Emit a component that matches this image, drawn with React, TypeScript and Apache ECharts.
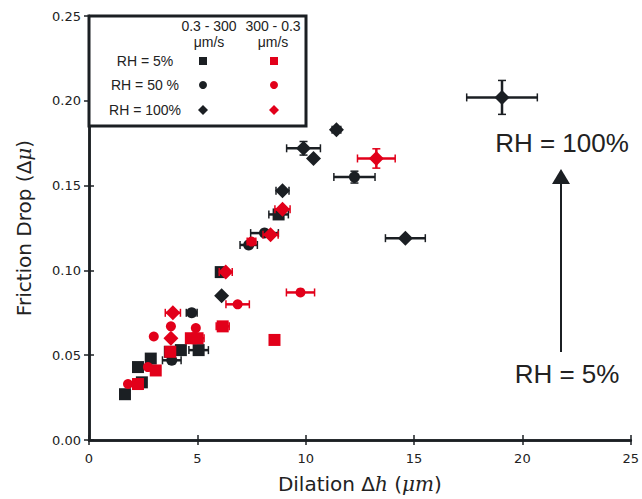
import React, { useEffect, useRef } from "react";
import * as echarts from "echarts";

// [dilation (µm), friction drop, x error, y error]
const blackSquares = [
  [1.66, 0.027, 0, 0],
  [2.26, 0.043, 0, 0],
  [2.44, 0.034, 0, 0],
  [2.85, 0.048, 0, 0],
  [3.73, 0.052, 0, 0],
  [4.24, 0.053, 0, 0],
  [5.06, 0.053, 0.45, 0],
  [6.08, 0.099, 0.2, 0],
  [8.75, 0.133, 0.45, 0],
];
const blackCircles = [
  [3.82, 0.047, 0.43, 0],
  [4.74, 0.075, 0.25, 0],
  [7.37, 0.115, 0.4, 0],
  [8.1, 0.122, 0.64, 0],
  [12.25, 0.155, 0.95, 0.0035],
];
const blackDiamonds = [
  [6.12, 0.085, 0, 0],
  [8.93, 0.147, 0.3, 0],
  [11.42, 0.183, 0.2, 0],
  [10.36, 0.166, 0, 0],
  [9.9, 0.172, 0.78, 0.004],
  [14.6, 0.119, 0.92, 0],
  [19.06, 0.202, 1.63, 0.01],
];
const redSquares = [
  [2.26, 0.033, 0, 0],
  [3.08, 0.041, 0, 0],
  [3.75, 0.052, 0, 0],
  [4.7, 0.06, 0, 0],
  [5.01, 0.06, 0.3, 0],
  [6.17, 0.067, 0.3, 0],
  [8.56, 0.059, 0, 0],
];
const redCircles = [
  [1.8, 0.033, 0, 0],
  [2.72, 0.043, 0, 0],
  [2.99, 0.061, 0, 0],
  [3.78, 0.067, 0, 0],
  [4.93, 0.066, 0, 0],
  [6.86, 0.08, 0.54, 0],
  [7.5, 0.117, 0.2, 0],
  [9.76, 0.087, 0.65, 0],
];
const redDiamonds = [
  [3.78, 0.06, 0, 0],
  [3.87, 0.075, 0.35, 0],
  [6.31, 0.099, 0.3, 0],
  [8.38, 0.121, 0.35, 0],
  [8.93, 0.136, 0.35, 0],
  [13.26, 0.166, 0.87, 0.0057],
];

const xTicks = [0, 5, 10, 15, 20, 25];
const yTicks = [0, 0.05, 0.1, 0.15, 0.2, 0.25];

const BLACK = "#1b1f23";
const RED = "#e2001a";
const SANS = "'Liberation Sans', Arial, sans-serif";
const DEJAVU = "'DejaVu Sans', sans-serif";

function errSeries(data: number[][], color: string, z: number) {
  return {
    type: "custom",
    z,
    xAxisIndex: 0,
    yAxisIndex: 0,
    data: data.filter((d) => d[2] > 0 || d[3] > 0),
    renderItem: (params: any, api: any) => {
      const x = api.value(0);
      const y = api.value(1);
      const xe = api.value(2);
      const ye = api.value(3);
      const children: any[] = [];
      const cap = 4;
      const st = { stroke: color, lineWidth: 2.5 };
      const cs = { stroke: color, lineWidth: 1.5 };
      if (xe > 0) {
        const l = api.coord([x - xe, y]);
        const r = api.coord([x + xe, y]);
        children.push({ type: "line", shape: { x1: l[0], y1: l[1], x2: r[0], y2: r[1] }, style: st });
        children.push({ type: "line", shape: { x1: l[0], y1: l[1] - cap, x2: l[0], y2: l[1] + cap }, style: cs });
        children.push({ type: "line", shape: { x1: r[0], y1: r[1] - cap, x2: r[0], y2: r[1] + cap }, style: cs });
      }
      if (ye > 0) {
        const b = api.coord([x, y - ye]);
        const t = api.coord([x, y + ye]);
        children.push({ type: "line", shape: { x1: b[0], y1: b[1], x2: t[0], y2: t[1] }, style: st });
        children.push({ type: "line", shape: { x1: b[0] - cap, y1: b[1], x2: b[0] + cap, y2: b[1] }, style: cs });
        children.push({ type: "line", shape: { x1: t[0] - cap, y1: t[1], x2: t[0] + cap, y2: t[1] }, style: cs });
      }
      return { type: "group", children };
    },
  };
}

function scatter(name: string, data: number[][], color: string, symbol: string, size: number, z: number) {
  return {
    name,
    type: "scatter",
    z,
    xAxisIndex: 0,
    yAxisIndex: 0,
    symbol,
    symbolSize: size,
    itemStyle: { color, opacity: 1 },
    data: data.map((d) => [d[0], d[1]]),
  };
}

export default function App() {
  const ref = useRef<HTMLDivElement>(null);
  useEffect(() => {
    if (!ref.current) return;
    const chart = echarts.init(ref.current, null, { renderer: "svg" });
    const axisLine = { show: true, lineStyle: { color: BLACK, width: 2.5 } };
    const axisTick = { show: true, inside: true, length: 5, lineStyle: { color: BLACK, width: 1.5 } };
    const xMin = xTicks[0];
    const xMax = xTicks[xTicks.length - 1];
    const yMin = yTicks[0];
    const yMax = yTicks[yTicks.length - 1];
    const legendX0 = 203;
    const legendX1 = 274;
    const rows = [61, 85, 110];
    const t = (x: number, y: number, text: string, size = 14) => ({
      type: "text",
      z: 11,
      x,
      y,
      style: { text, font: `${size}px ${SANS}`, fill: "#222", align: "center", verticalAlign: "middle" },
    });
    const nameStyle = {
      color: "#222",
      fontFamily: DEJAVU,
      fontSize: 20,
      rich: { i: { fontFamily: "'DejaVu Serif', serif", fontStyle: "italic", fontSize: 20, color: "#222" } },
    };
    chart.setOption({
      animation: false,
      backgroundColor: "#ffffff",
      grid: { left: 89, right: 10, top: 16, bottom: 57 },
      xAxis: [
        {
          type: "value",
          min: xMin,
          max: xMax,
          interval: 5,
          position: "bottom",
          axisLine,
          axisTick,
          splitLine: { show: false },
          axisLabel: { color: "#222", fontFamily: DEJAVU, fontSize: 13, margin: 12 },
          name: "Dilation Δ{i|h} ({i|μm})",
          nameLocation: "middle",
          nameGap: 34,
          nameTextStyle: nameStyle,
        },
        {
          type: "value",
          min: xMin,
          max: xMax,
          interval: 5,
          position: "top",
          axisLine,
          axisTick,
          splitLine: { show: false },
          axisLabel: { show: false },
        },
      ],
      yAxis: [
        {
          type: "value",
          min: yMin,
          max: yMax,
          interval: 0.05,
          position: "left",
          axisLine,
          axisTick,
          splitLine: { show: false },
          axisLabel: {
            color: "#222",
            fontFamily: DEJAVU,
            fontSize: 13,
            margin: 8,
            formatter: (v: number) => v.toFixed(2),
          },
          name: "Friction Drop (Δ{i|μ})",
          nameLocation: "middle",
          nameGap: 55,
          nameRotate: 90,
          nameTextStyle: nameStyle,
        },
        {
          type: "value",
          min: yMin,
          max: yMax,
          interval: 0.05,
          position: "right",
          axisLine,
          axisTick,
          splitLine: { show: false },
          axisLabel: { show: false },
        },
      ],
      series: [
        errSeries([...blackSquares, ...blackCircles, ...blackDiamonds], BLACK, 1),
        scatter("bs", blackSquares, BLACK, "rect", 12, 2),
        scatter("bc", blackCircles, BLACK, "circle", 11, 2),
        scatter("bd", blackDiamonds, BLACK, "diamond", 15, 2),
        errSeries([...redSquares, ...redCircles, ...redDiamonds], RED, 3),
        scatter("rs", redSquares, RED, "rect", 12, 4),
        scatter("rc", redCircles, RED, "circle", 10, 4),
        scatter("rd", redDiamonds, RED, "diamond", 15, 4),
      ],
      graphic: [
        {
          type: "rect",
          z: 10,
          shape: { x: 89, y: 16, width: 217, height: 110 },
          style: { fill: "#ffffff", stroke: BLACK, lineWidth: 3 },
        },
        t(209, 26, "0.3 - 300"),
        t(209, 42, "μm/s"),
        t(273, 26, "300 - 0.3"),
        t(273, 42, "μm/s"),
        t(145, rows[0], "RH = 5%"),
        t(145, rows[1], "RH = 50 %"),
        t(145, rows[2], "RH = 100%"),
        { type: "rect", z: 11, shape: { x: legendX0 - 4, y: rows[0] - 4, width: 8, height: 8 }, style: { fill: BLACK } },
        { type: "rect", z: 11, shape: { x: legendX1 - 4, y: rows[0] - 4, width: 8, height: 8 }, style: { fill: RED } },
        { type: "circle", z: 11, shape: { cx: legendX0, cy: rows[1], r: 4 }, style: { fill: BLACK } },
        { type: "circle", z: 11, shape: { cx: legendX1, cy: rows[1], r: 4 }, style: { fill: RED } },
        {
          type: "polygon",
          z: 11,
          shape: { points: [[legendX0, rows[2] - 5], [legendX0 + 5, rows[2]], [legendX0, rows[2] + 5], [legendX0 - 5, rows[2]]] },
          style: { fill: BLACK },
        },
        {
          type: "polygon",
          z: 11,
          shape: { points: [[legendX1, rows[2] - 5], [legendX1 + 5, rows[2]], [legendX1, rows[2] + 5], [legendX1 - 5, rows[2]]] },
          style: { fill: RED },
        },
        t(562, 143, "RH = 100%", 26),
        t(567, 374, "RH = 5%", 26),
        { type: "line", z: 11, shape: { x1: 561, y1: 352, x2: 561, y2: 180 }, style: { stroke: BLACK, lineWidth: 2 } },
        { type: "polygon", z: 11, shape: { points: [[561, 169], [570, 184], [552, 184]] }, style: { fill: BLACK } },
      ],
    });
    return () => chart.dispose();
  }, []);
  return <div ref={ref} style={{ position: "absolute", left: 0, top: 0, width: 642, height: 499 }} />;
}
